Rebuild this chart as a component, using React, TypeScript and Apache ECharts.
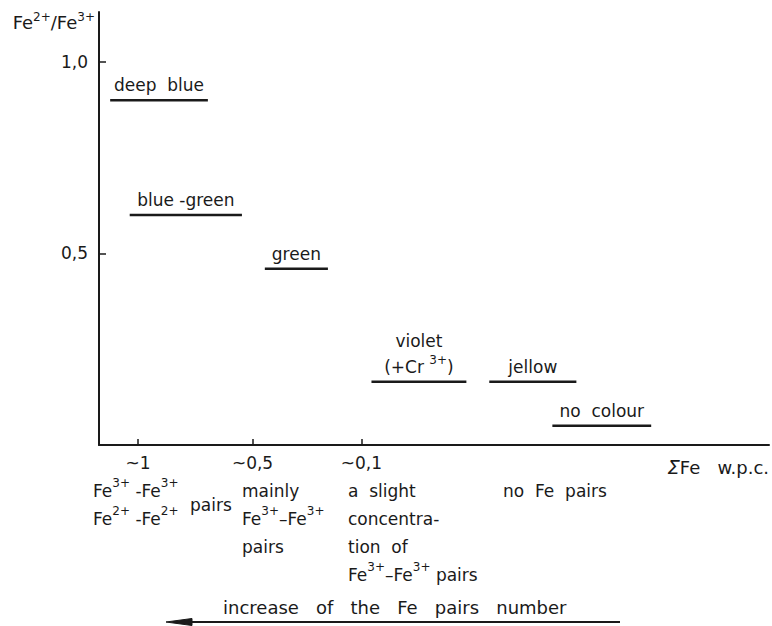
import React, { useEffect, useRef } from "react";
import * as echarts from "echarts";

// Colour regions: label, Fe2+/Fe3+ ratio and horizontal extent on the schematic ΣFe axis
const colourNames = ["deep  blue", "blue -green", "green", "violet\n(+Cr {sup|3+})", "jellow", "no  colour"];
const ratioValues = [0.9, 0.6, 0.46, 0.165, 0.165, 0.05];
const spanStart = [2, 5.5, 29.7, 48.8, 69.9, 81.2];
const spanEnd = [19.5, 25.6, 41, 65.8, 85.5, 98.9];

// Schematic ΣFe axis ticks
const xTickPos = [7, 27.5, 47];
const xTickLabels = ["~1", "~0,5", "~0,1"];

// Fe2+/Fe3+ axis ticks
const yTickValues = [0.5, 1.0];

const FONT = "DejaVu Sans";
const INK = "#1a1a1a";
const supStyle = { fontSize: 12, lineHeight: 12, verticalAlign: "top" as const, fontFamily: FONT, fill: INK, color: INK };

export default function App() {
  const ref = useRef<HTMLDivElement>(null);

  useEffect(() => {
    if (!ref.current) return;
    const chart = echarts.init(ref.current, null, { renderer: "svg" });

    const barData = spanStart.map((s, i) => [s, spanEnd[i], ratioValues[i]]);

    const noteText = (x: number, y: number, text: string, fontSize = 17, lineHeight = 28) => ({
      type: "text",
      x,
      y,
      style: {
        text,
        fontFamily: FONT,
        fontSize,
        fill: INK,
        lineHeight,
        verticalAlign: "top",
        align: "left",
        rich: { sup: supStyle },
      },
    });

    chart.setOption({
      animation: false,
      backgroundColor: "#ffffff",
      grid: { left: 99, right: 2, top: 12, bottom: 181, containLabel: false },
      xAxis: {
        type: "value",
        min: 0,
        max: 120,
        splitLine: { show: false },
        axisLine: { show: true, lineStyle: { color: INK, width: 2 } },
        axisTick: { show: true, inside: true, length: 6, customValues: xTickPos, lineStyle: { color: INK, width: 1.5 } },
        axisLabel: {
          customValues: xTickPos,
          margin: 9,
          fontFamily: FONT,
          fontSize: 17,
          color: INK,
          formatter: (v: number) => xTickLabels[xTickPos.indexOf(v)] ?? "",
        },
        name: "{sig|Σ}Fe   w.p.c.",
        nameLocation: "end",
        nameGap: 0,
        nameTextStyle: {
          align: "right",
          verticalAlign: "top",
          padding: [12, 0, 0, 0],
          fontFamily: FONT,
          fontSize: 18,
          color: INK,
          rich: { sig: { fontFamily: FONT, fontSize: 20, fontStyle: "italic", color: INK } },
        },
      },
      yAxis: {
        type: "value",
        min: 0,
        max: 1.13,
        splitLine: { show: false },
        axisLine: { show: true, lineStyle: { color: INK, width: 2 } },
        axisTick: { show: true, inside: true, length: 7, customValues: yTickValues, lineStyle: { color: INK, width: 1.5 } },
        axisLabel: {
          customValues: yTickValues,
          margin: 11,
          fontFamily: FONT,
          fontSize: 17,
          color: INK,
          formatter: (v: number) => v.toFixed(1).replace(".", ","),
        },
        name: "Fe{sup|2+}/Fe{sup|3+}",
        nameLocation: "end",
        nameGap: -10,
        nameTextStyle: {
          align: "right",
          verticalAlign: "middle",
          padding: [0, 4, 0, 0],
          fontFamily: FONT,
          fontSize: 18,
          lineHeight: 22,
          color: INK,
          rich: { sup: { fontSize: 12, lineHeight: 12, verticalAlign: "top", fontFamily: FONT, color: INK } },
        },
      },
      series: [
        {
          type: "custom",
          data: barData,
          encode: { x: [0, 1], y: 2 },
          renderItem: (params: any, api: any) => {
            const y = api.value(2);
            const p0 = api.coord([api.value(0), y]);
            const p1 = api.coord([api.value(1), y]);
            return {
              type: "group",
              children: [
                {
                  type: "line",
                  shape: { x1: p0[0], y1: p0[1], x2: p1[0], y2: p1[1] },
                  style: { stroke: INK, lineWidth: 2.5 },
                },
                {
                  type: "text",
                  x: (p0[0] + p1[0]) / 2,
                  y: p0[1] - 2,
                  style: {
                    text: colourNames[params.dataIndex],
                    align: "center",
                    verticalAlign: "bottom",
                    fontFamily: FONT,
                    fontSize: 17,
                    lineHeight: 26,
                    fill: INK,
                    rich: { sup: supStyle },
                  },
                },
              ],
            };
          },
        },
      ],
      graphic: [
        noteText(93, 477, "Fe{sup|3+} -Fe{sup|3+}\nFe{sup|2+} -Fe{sup|2+}"),
        noteText(190, 491, "pairs"),
        noteText(242, 477, "mainly\nFe{sup|3+}–Fe{sup|3+}\npairs"),
        noteText(348, 477, "a  slight\nconcentra-\ntion  of\nFe{sup|3+}–Fe{sup|3+} pairs"),
        noteText(503, 477, "no  Fe  pairs"),
        noteText(223, 593, "increase   of   the   Fe   pairs   number", 18),
        {
          type: "polyline",
          shape: { points: [[620, 622], [185, 622]] },
          style: { stroke: INK, lineWidth: 2, fill: "none" },
        },
        {
          type: "polygon",
          shape: { points: [[166, 622], [192, 618.5], [192, 625.5]] },
          style: { fill: INK, stroke: INK, lineWidth: 1 },
        },
      ],
    });

    return () => chart.dispose();
  }, []);

  return (
    <div
      ref={ref}
      style={{ position: "fixed", left: 0, top: 0, width: 772, height: 626, background: "#ffffff" }}
    />
  );
}
